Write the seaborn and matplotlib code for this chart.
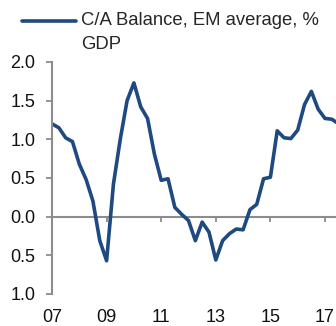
import matplotlib
matplotlib.use("Agg")
import matplotlib.pyplot as plt
from matplotlib.legend_handler import HandlerLine2D
import numpy as np
import seaborn as sns
import pandas as pd

# Quarterly current-account balance, EM average, % of GDP
quarters = pd.period_range("2007Q1", "2017Q3", freq="Q")
ca_balance = [
    1.20, 1.15, 1.02, 0.97,    # 2007
    0.68, 0.48, 0.20, -0.31,   # 2008
    -0.57, 0.42, 1.00, 1.50,   # 2009
    1.73, 1.42, 1.27, 0.81,    # 2010
    0.47, 0.49, 0.12, 0.03,    # 2011
    -0.05, -0.31, -0.07, -0.20,  # 2012
    -0.56, -0.31, -0.22, -0.16,  # 2013
    -0.17, 0.09, 0.16, 0.49,   # 2014
    0.51, 1.11, 1.02, 1.01,    # 2015
    1.12, 1.45, 1.62, 1.39,    # 2016
    1.27, 1.26, 1.20,          # 2017
]
series_label = "C/A Balance, EM average, %\nGDP"

x_ticks = [2007, 2009, 2011, 2013, 2015, 2017]
x_ticklabels = ["07", "09", "11", "13", "15", "17"]
y_ticks = [2.0, 1.5, 1.0, 0.5, 0.0, -0.5, -1.0]
y_ticklabels = ["2.0", "1.5", "1.0", "0.5", "0.0", "0.5", "1.0"]

df = pd.DataFrame({
    "t": quarters.year + (quarters.quarter - 1) / 4.0,
    "balance": ca_balance,
})

sns.set_style("white")
plt.rcParams["font.family"] = ["Liberation Sans", "DejaVu Sans"]

LINE = "#1f4a80"
AXIS = "#8c8c8c"
FS = 13


class FirstLineHandler(HandlerLine2D):
    """Legend line that sits beside the first row of a two-row label."""

    def __init__(self, lift=8.0, **kw):
        super().__init__(**kw)
        self.lift = lift

    def create_artists(self, legend, orig_handle, xdescent, ydescent,
                       width, height, fontsize, trans):
        artists = super().create_artists(legend, orig_handle, xdescent,
                                         ydescent, width, height, fontsize,
                                         trans)
        for a in artists:
            a.set_ydata(np.asarray(a.get_ydata(), dtype=float) + self.lift)
        return artists


fig = plt.figure(figsize=(3.36, 3.26), dpi=100)
ax = fig.add_axes([52 / 336, 32 / 326, 284 / 336, 232 / 326])

sns.lineplot(data=df, x="t", y="balance", ax=ax, color=LINE, linewidth=2.6,
             label=series_label)

ax.set_xlim(2007, 2007 + 284 / 27.3)
ax.set_ylim(-1.0, 2.0)

for side in ("top", "right", "bottom"):
    ax.spines[side].set_visible(False)
ax.spines["left"].set_color(AXIS)
ax.spines["left"].set_linewidth(1.5)

# zero line with its own tick marks; labels stay at the bottom
ax.axhline(0, color=AXIS, linewidth=1.5, zorder=1)
ax.vlines(x_ticks[1:], -0.075, 0, color=AXIS, linewidth=1.3, zorder=1)

ax.set_xticks(x_ticks)
ax.set_xticklabels(x_ticklabels)
ax.set_yticks(y_ticks)
ax.set_yticklabels(y_ticklabels)
ax.tick_params(axis="x", length=0, pad=10.5, labelsize=FS, labelcolor="#111111")
ax.tick_params(axis="y", direction="out", length=4.3, width=1.3, color=AXIS,
               pad=7.5, labelsize=FS, labelcolor="#111111", left=True)
ax.set_xlabel("")
ax.set_ylabel("")
ax.grid(False)

handles, labels = ax.get_legend_handles_labels()
leg = ax.legend(handles, labels, loc="upper left",
                bbox_to_anchor=(22 / 336, 1 - 12 / 326),
                bbox_transform=fig.transFigure, frameon=False, fontsize=13.3,
                handlelength=2.9, handletextpad=0.3, borderpad=0,
                borderaxespad=0,
                handler_map={handles[0]: FirstLineHandler(lift=8.5)})
for txt in leg.get_texts():
    txt.set_linespacing(1.55)

fig.savefig("out.png", dpi=100)
